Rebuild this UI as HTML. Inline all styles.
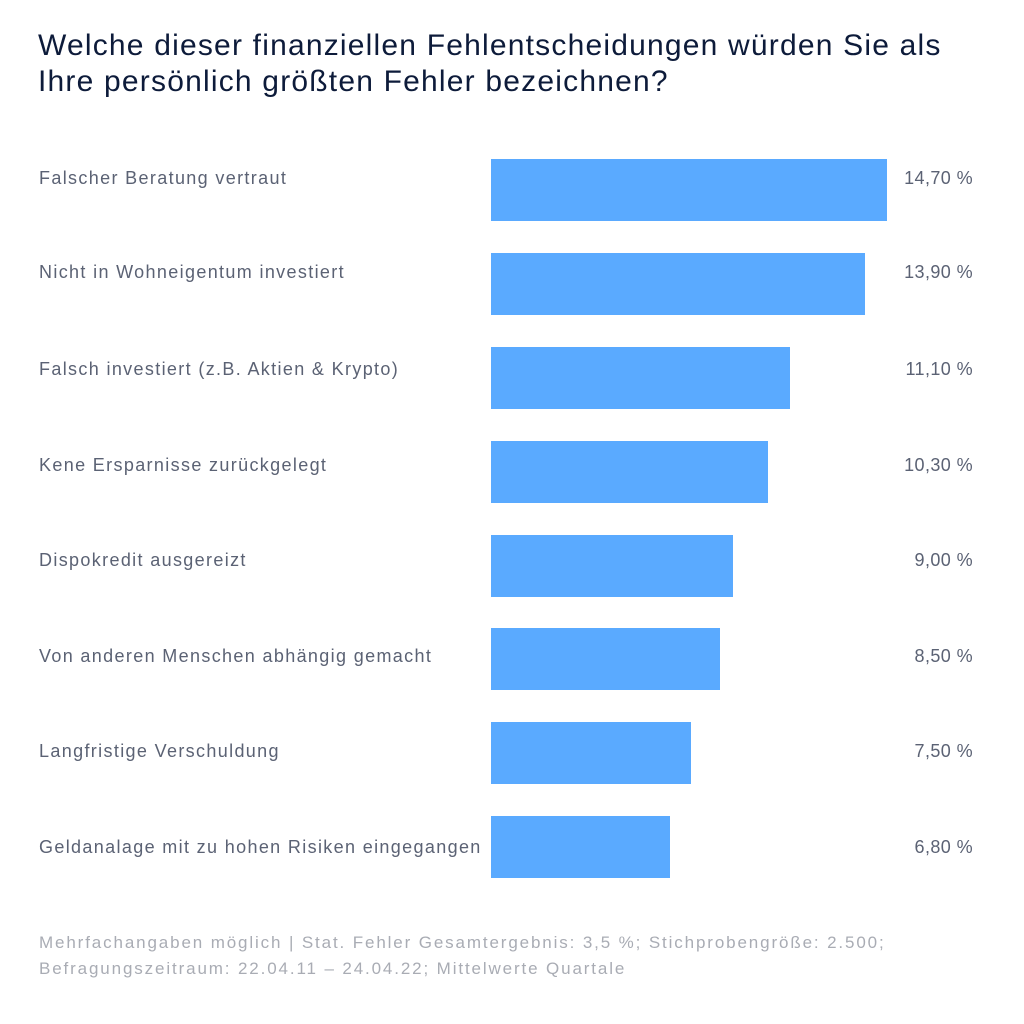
<!DOCTYPE html>
<html><head><meta charset="utf-8"><style>
body{margin:0;width:1024px;height:1024px;background:#fff;position:relative;font-family:"Liberation Sans",sans-serif;overflow:hidden}
.t{position:absolute;left:38px;top:28px;font-size:30px;line-height:36px;color:#0d1b3a;letter-spacing:1.2px;white-space:nowrap}
.l{position:absolute;left:39px;font-size:18px;color:#5b6274;line-height:20px;letter-spacing:1.35px;white-space:nowrap}
.v{position:absolute;right:51px;font-size:18px;color:#5b6274;line-height:20px;letter-spacing:0.4px}
.b{position:absolute;left:491px;height:62px;background:#5aaaff}
.f{position:absolute;left:39px;font-size:17px;color:#a9acb4;line-height:26px;top:930px;letter-spacing:1.87px;white-space:nowrap}
</style></head><body>
<div class="t">Welche dieser finanziellen Fehlentscheidungen würden Sie als<br>Ihre persönlich größten Fehler bezeichnen?</div>

<div class="l" style="top:168px">Falscher Beratung vertraut</div><div class="b" style="top:159px;width:396px"></div><div class="v" style="top:168px">14,70 %</div>
<div class="l" style="top:262px">Nicht in Wohneigentum investiert</div><div class="b" style="top:253px;width:374px"></div><div class="v" style="top:262px">13,90 %</div>
<div class="l" style="top:359px">Falsch investiert (z.B. Aktien &amp; Krypto)</div><div class="b" style="top:347px;width:299px"></div><div class="v" style="top:359px">11,10 %</div>
<div class="l" style="top:455px">Kene Ersparnisse zurückgelegt</div><div class="b" style="top:441px;width:277px"></div><div class="v" style="top:455px">10,30 %</div>
<div class="l" style="top:550px">Dispokredit ausgereizt</div><div class="b" style="top:535px;width:242px"></div><div class="v" style="top:550px">9,00 %</div>
<div class="l" style="top:646px">Von anderen Menschen abhängig gemacht</div><div class="b" style="top:628px;width:229px"></div><div class="v" style="top:646px">8,50 %</div>
<div class="l" style="top:741px">Langfristige Verschuldung</div><div class="b" style="top:722px;width:200px"></div><div class="v" style="top:741px">7,50 %</div>
<div class="l" style="top:837px">Geldanalage mit zu hohen Risiken eingegangen</div><div class="b" style="top:816px;width:179px"></div><div class="v" style="top:837px">6,80 %</div>

<div class="f">Mehrfachangaben möglich | Stat. Fehler Gesamtergebnis: 3,5 %; Stichprobengröße: 2.500;<br>Befragungszeitraum: 22.04.11 – 24.04.22; Mittelwerte Quartale</div>
</body></html>
